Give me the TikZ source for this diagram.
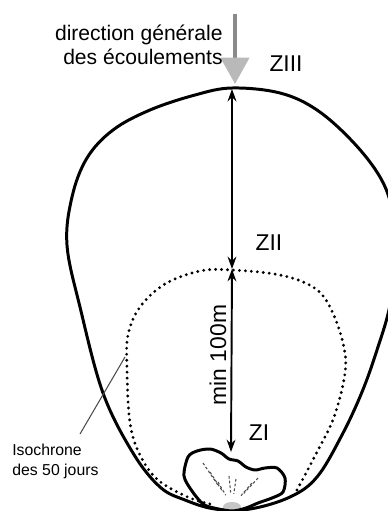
\documentclass[tikz,border=0pt]{standalone}
\usepackage{fontspec}
\setmainfont{Liberation Sans}
\usepackage{xcolor}
\usetikzlibrary{arrows.meta, calc}
\definecolor{flowgray}{HTML}{8A8A8A}

\tikzset{
  zonelbl/.style={font=\fontsize{13}{15}\selectfont, inner sep=0pt},
  zoneline/.style={line width=1.7pt, line join=round},
  isoline/.style={line width=1.8pt, line cap=round, dash pattern=on 0pt off 3.4pt},
  dimline/.style={line width=1.1pt, {Stealth[length=7pt,width=5pt]}-{Stealth[length=7pt,width=5pt]}},
  flowdash/.style={line width=0.6pt, dash pattern=on 1.5pt off 1.2pt, gray!60!black}
}

\begin{document}
\begin{tikzpicture}[x=0.02cm, y=-0.02cm]
  \useasboundingbox (0,0) rectangle (388,511);

  %% Zone III: outer protection perimeter
  \draw[zoneline] plot[smooth cycle, tension=0.6] coordinates {
    (232,88) (280,93) (317,110) (353,142) (380,177) (392,210) (395,255)
    (390,305) (377,350) (362,392) (342,435) (317,477) (290,497) (250,509)
    (215,509) (185,500) (160,487) (133,453) (103,393) (80,307) (67,245)
    (72,197) (87,158) (113,130) (150,110) (195,95)};

  %% Zone II: isochrone 50 jours
  \draw[isoline] plot[smooth, tension=0.6] coordinates {
    (297,490) (317,452) (334,417) (345,373) (343,343) (330,307) (313,287)
    (280,275) (232,270) (200,271) (165,284) (140,307) (128,335) (127,370)
    (130,423) (140,455) (158,480) (190,498) (215,505)};

  %% Zone I: immediate perimeter around the well
  \fill[gray!45] (232,507) ellipse (9 and 5);
  \foreach \a/\b in {203/463, 210/472, 218/482, 229/476, 236/479, 252/483, 258/478} {
    \draw[flowdash] (\a,\b) -- ($(\a,\b)!0.55!(232,506)$);
  }
  \draw[zoneline] plot[smooth cycle, tension=0.5] coordinates {
    (188,457) (197,451) (210,449) (221,453) (229,459) (238,461) (246,467)
    (255,470) (265,468) (277,468) (285,478) (283,492) (272,498) (258,503)
    (246,508) (232,511) (214,508) (203,504) (192,491) (184,476)};

  %% key points on the axis
  \coordinate (ziiitop) at (232,89);
  \coordinate (ziitop) at (232,269);
  \coordinate (zitop) at (231,452);
  \coordinate (flowsrc) at (235,14);
  \coordinate (flowtip) at (235,84);

  %% distances
  \draw[dimline] (ziitop) -- (ziiitop);
  \draw[dimline] (zitop) -- (ziitop);

  %% general flow direction
  \draw[line width=2.2pt, flowgray,
        -{Triangle[length=15pt, width=16pt, fill=gray!55, color=gray!55]}]
    (flowsrc) -- (flowtip);
  \node (flowlbl) [anchor=east, align=right, inner sep=0pt,
        font=\fontsize{12}{14}\selectfont] at (223,45)
    {direction générale\\des écoulements};

  %% labels
  \node (ziii) [zonelbl] at (286,64) {ZIII};
  \node (zii)  [zonelbl] at (269,243) {ZII};
  \node (zi)   [zonelbl] at (259,433) {ZI};
  \node (dist) [zonelbl, rotate=90] at (218,355) {min 100m};

  \node (iso) [anchor=north west, align=left, inner sep=0pt,
        font=\fontsize{9}{11}\selectfont] at (12,444)
    {Isochrone\\des 50 jours};
  \coordinate (isofoot) at (80,434);
  \coordinate (isopt) at (125,357);
  \draw[gray!60!black, line width=0.6pt] (isofoot) -- (isopt);
\end{tikzpicture}
\end{document}
